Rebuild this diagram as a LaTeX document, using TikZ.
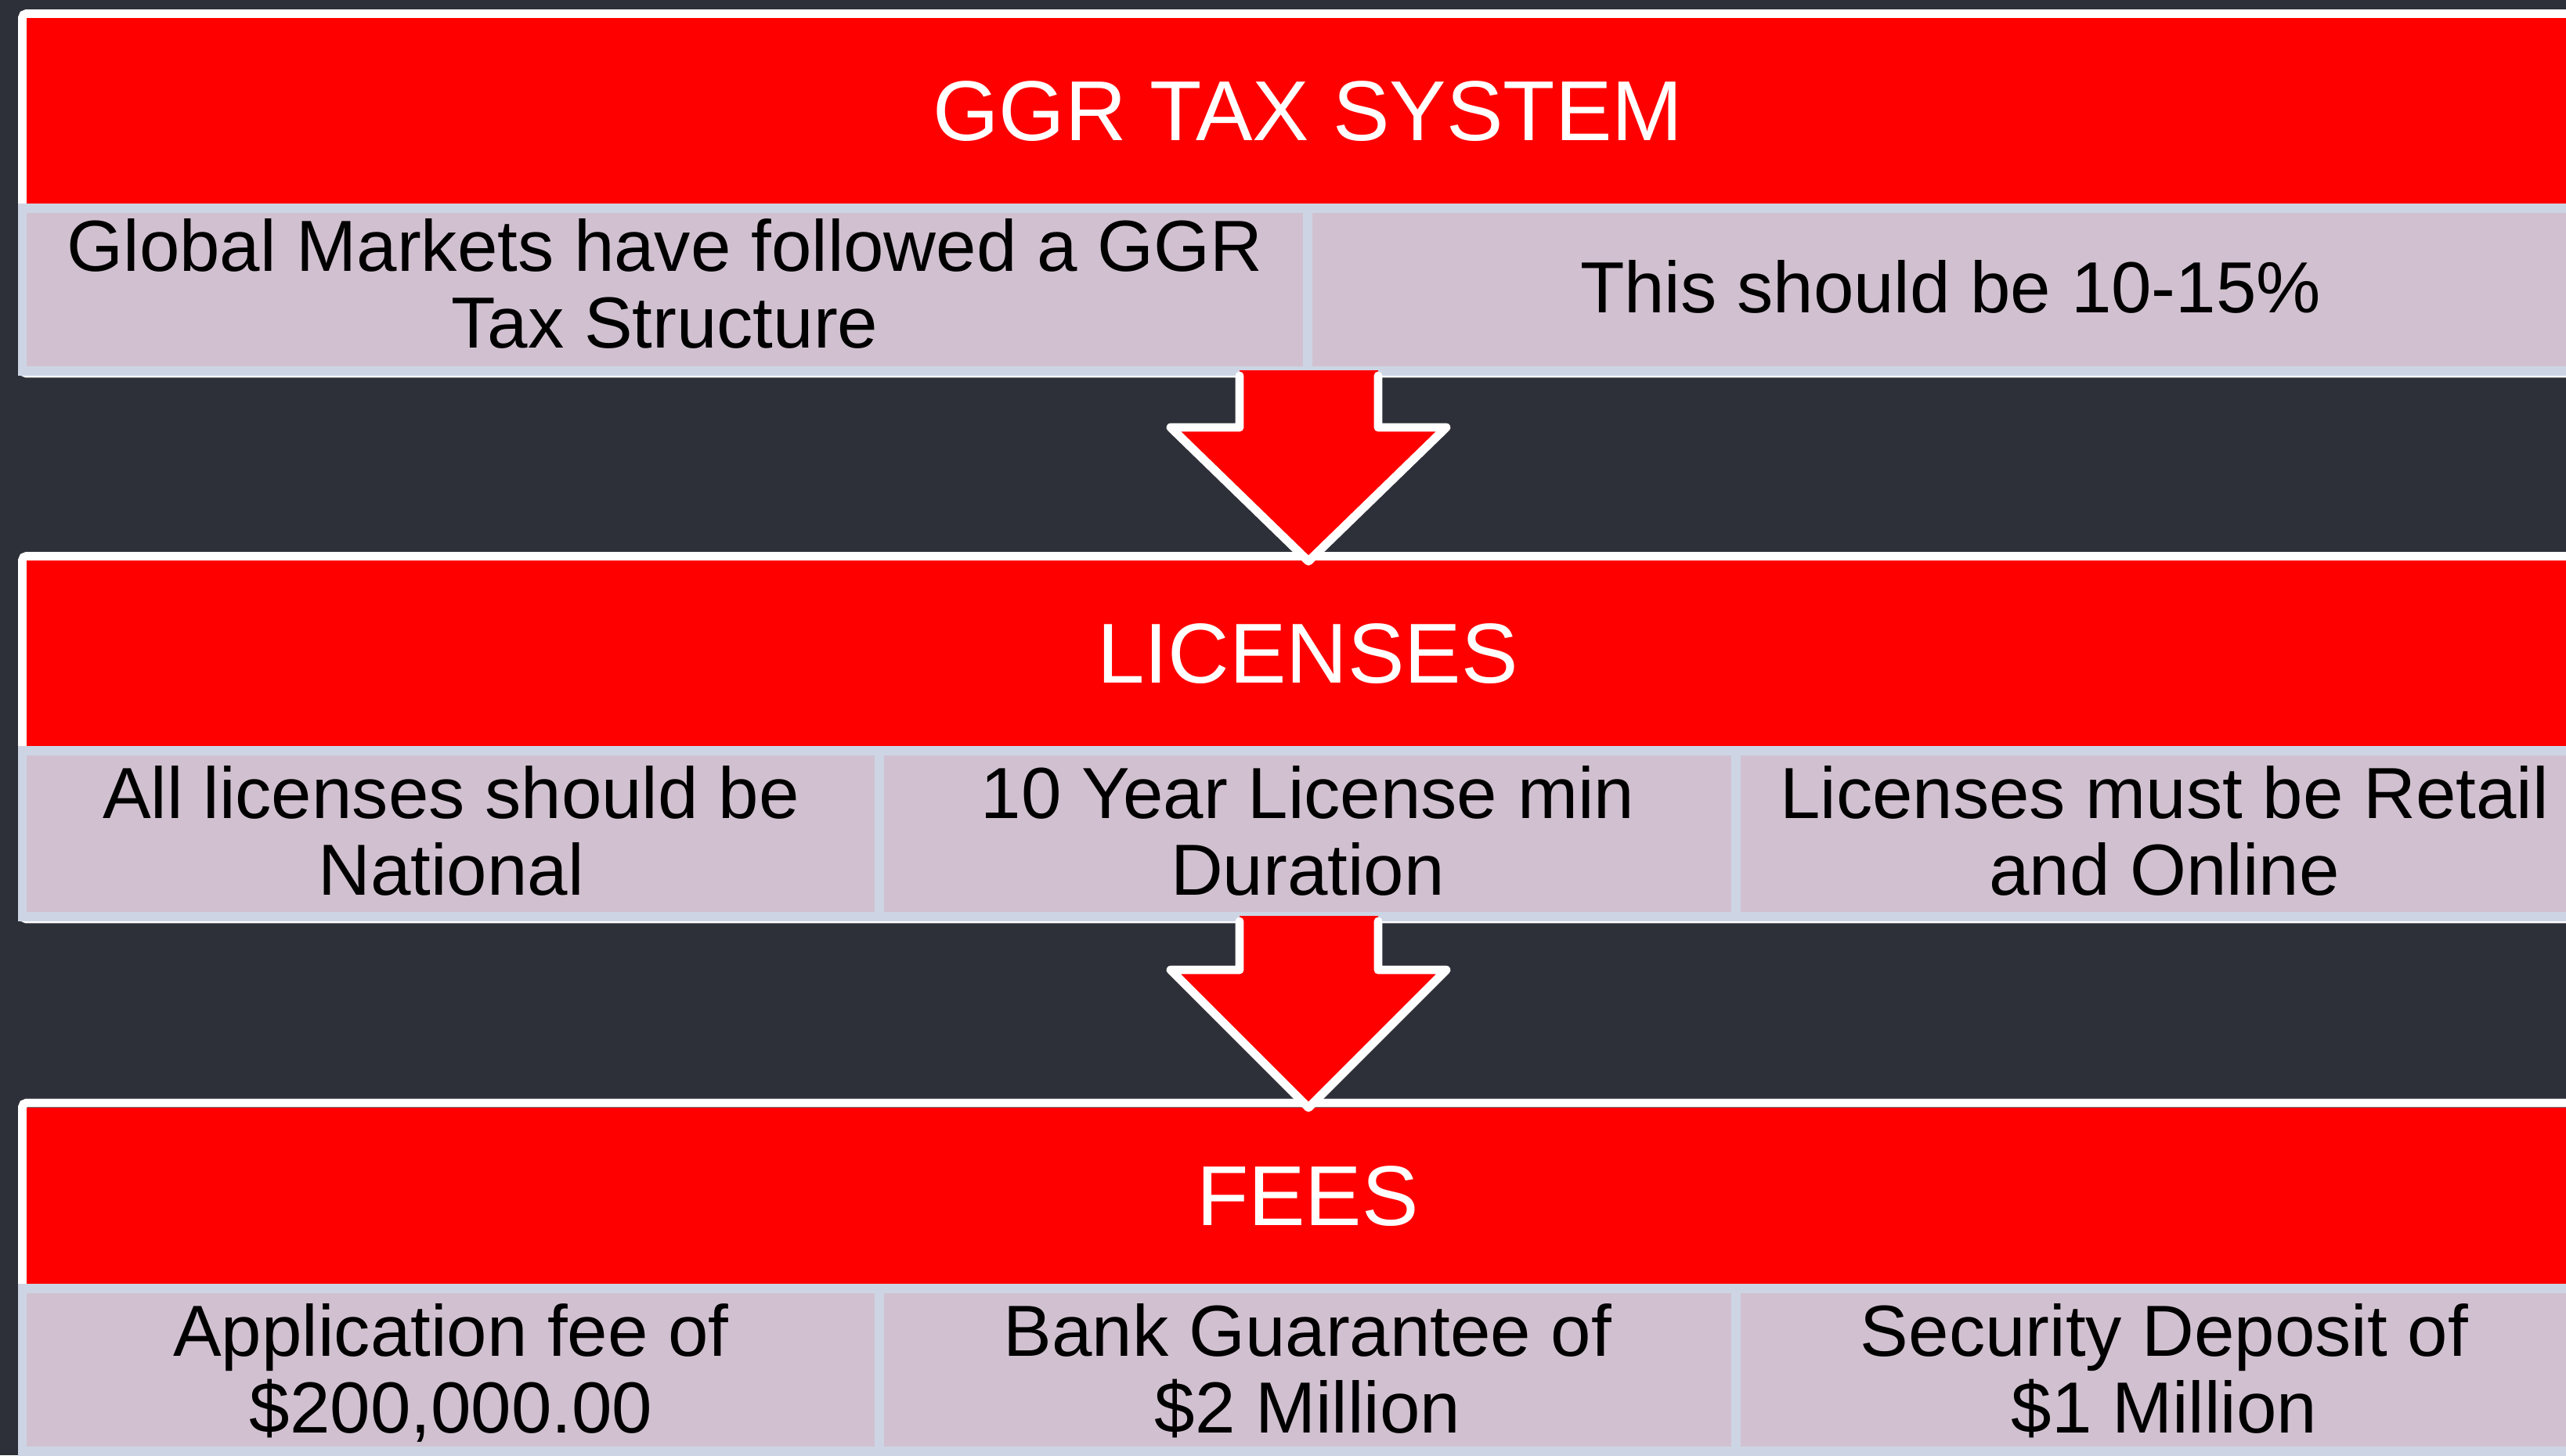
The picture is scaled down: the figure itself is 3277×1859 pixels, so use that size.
\documentclass[tikz,border=0pt]{standalone}
\usepackage{fontspec}
\setmainfont{Liberation Sans}
\definecolor{slidebg}{HTML}{2E3039}
\definecolor{headred}{HTML}{FF0000}
\definecolor{cellfill}{HTML}{D1C1D0}
\definecolor{cellline}{HTML}{CDD5E4}

\begin{document}
\begin{tikzpicture}[x=0.01cm,y=-0.01cm,
    frame/.style={draw=white,line width=3.1pt,rounded corners=1.5pt},
    cellbox/.style={draw=cellline,fill=cellfill,line width=3.2pt},
    arrowline/.style={draw=white,line width=3.1pt,line join=round,line cap=round},
    headtext/.style={text=white,inner sep=0pt,font=\fontsize{30.9}{32}\selectfont,
      text height=21.8pt,text depth=0pt},
    celltext/.style={text=black,inner sep=0pt,align=center,
      font=\fontsize{26.3}{27.9}\selectfont}]
  \useasboundingbox (0,0) rectangle (3277,1859);
  \fill[slidebg] (0,0) rectangle (3277,1859);

  % tax system
  \draw[frame] (28.5,17.5) rectangle (3311.5,477);
  \fill[headred] (34,23) rectangle (3306,260);
  \draw[cellbox] (28.5,266) rectangle (1670,474);
  \draw[cellbox] (1670,266) rectangle (3311.5,474);
  \node[headtext] (tax) at (1670,141.5) {GGR TAX SYSTEM};
  \node[celltext] (taxA) at (849,376) {\strut Global Markets have followed a GGR\\Tax Structure\strut};
  \node[celltext] (taxB) at (2491,380) {\strut This should be 10-15\%\strut};

  % licenses
  \draw[frame] (28.5,710.5) rectangle (3311.5,1174);
  \fill[headred] (34,716) rectangle (3306,953);
  \draw[cellbox] (28.5,959) rectangle (1123,1171);
  \draw[cellbox] (1123,959) rectangle (2217,1171);
  \draw[cellbox] (2217,959) rectangle (3311.5,1171);
  \node[headtext] (lic) at (1670,834.5) {LICENSES};
  \node[celltext] (licA) at (576,1075) {\strut All licenses should be\\National\strut};
  \node[celltext] (licB) at (1670,1075) {\strut 10 Year License min\\Duration\strut};
  \node[celltext] (licC) at (2764,1075) {\strut Licenses must be Retail\\and Online\strut};

  % fees
  \draw[frame] (28.5,1409) rectangle (3311.5,1870);
  \fill[headred] (34,1415) rectangle (3306,1640);
  \draw[cellbox] (28.5,1646) rectangle (1123,1854);
  \draw[cellbox] (1123,1646) rectangle (2217,1854);
  \draw[cellbox] (2217,1646) rectangle (3311.5,1854);
  \node[headtext] (fee) at (1670,1527.5) {FEES};
  \node[celltext] (feeA) at (576,1762) {\strut Application fee of\\\$200,000.00\strut};
  \node[celltext] (feeB) at (1670,1762) {\strut Bank Guarantee of\\\$2 Million\strut};
  \node[celltext] (feeC) at (2764,1762) {\strut Security Deposit of\\\$1 Million\strut};

  % arrows
  \fill[headred] (1583,473) -- (1583,546) -- (1495,546) -- (1671,717) -- (1847,546) -- (1760,546) -- (1760,473) -- cycle;
  \draw[arrowline] (1583,480) -- (1583,546) -- (1495,546) -- (1671,717) -- (1847,546) -- (1760,546) -- (1760,480);
  \fill[headred] (1583,1170) -- (1583,1239) -- (1495,1239) -- (1671,1415) -- (1847,1239) -- (1760,1239) -- (1760,1170) -- cycle;
  \draw[arrowline] (1583,1177) -- (1583,1239) -- (1495,1239) -- (1671,1415) -- (1847,1239) -- (1760,1239) -- (1760,1177);
\end{tikzpicture}
\end{document}
